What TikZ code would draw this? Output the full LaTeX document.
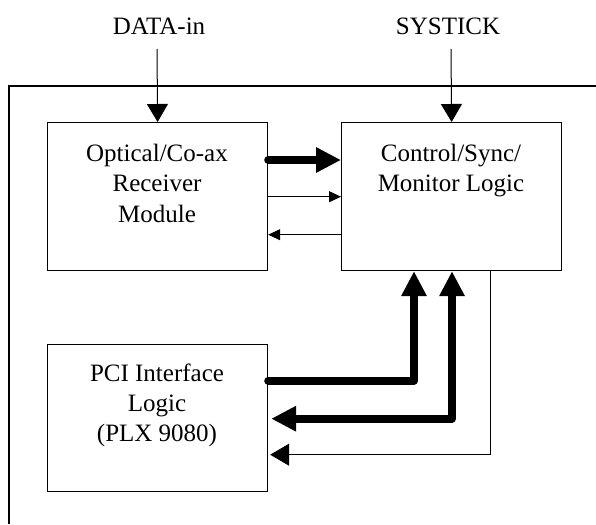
\documentclass[tikz,border=0pt]{standalone}
\usepackage{fontspec}
\setmainfont{Liberation Serif}
\usetikzlibrary{arrows.meta}
\begin{document}
\begin{tikzpicture}[x=1pt,y=-1pt,
  block/.style={draw,line width=1.2pt,minimum width=220pt,inner sep=0pt,anchor=north west},
  lbl/.style={font=\fontsize{25}{29}\selectfont,anchor=base,inner sep=0pt},
  frameline/.style={line width=1.6pt},
  thinwire/.style={line width=1pt},
  bus/.style={line width=8pt,line cap=round,line join=round},
  feedtip/.style={-{Triangle[length=18pt,width=21pt]}},
  smalltip/.style={-{Triangle[length=12pt,width=11pt]}},
  midtip/.style={-{Triangle[length=19pt,width=22pt]}},
  bustip/.style={-{Triangle[length=25pt,width=24pt]}},
  busboth/.style={{Triangle[length=25pt,width=24pt]}-{Triangle[length=25pt,width=24pt]}}]

  \useasboundingbox (0,0) rectangle (596,524);

  % board outline (open to the right and bottom)
  \draw[frameline] (9,524) -- (9,86) -- (596,86);

  % functional blocks
  \node[block,minimum height=148pt] (opt)  at (47,122)  {};
  \node[block,minimum height=148pt] (ctrl) at (341,122) {};
  \node[block,minimum height=147pt] (pci)  at (47,344)  {};

  % block captions
  \node[lbl] (opt1) at (157,161.7) {Optical/Co-ax};
  \node[lbl] (opt2) at (157,191.5) {Receiver};
  \node[lbl] (opt3) at (157,222.5) {Module};
  \node[lbl] (ctl1) at (451,161.7) {Control/Sync/};
  \node[lbl] (ctl2) at (451,191.5) {Monitor Logic};
  \node[lbl] (pci1) at (157,381.5) {PCI Interface};
  \node[lbl] (pci2) at (157,411.5) {Logic};
  \node[lbl] (pci3) at (157,441)   {(PLX 9080)};

  % external inputs
  \node[lbl] (din) at (159,35) {DATA-in};
  \node[lbl] (sys) at (448,35) {SYSTICK};
  \coordinate (dinend) at (157,49);
  \coordinate (sysend) at (451,49);
  \draw[thinwire,feedtip] (dinend) -- (opt.north);
  \draw[thinwire,feedtip] (sysend) -- (ctrl.north);

  % receiver <-> control links
  \draw[bus,bustip] ([yshift=-38pt]opt.north east) -- ([yshift=-38pt]ctrl.north west);
  \draw[thinwire,smalltip] ([yshift=-74.7pt]opt.north east) -- ([yshift=-74.7pt]ctrl.north west);
  \draw[thinwire,smalltip] ([yshift=-112.7pt]ctrl.north west) -- ([yshift=-112.7pt]opt.north east);

  % PCI <-> control links
  \draw[bus,bustip] ([yshift=-36.7pt]pci.north east) -| ([xshift=73pt]ctrl.south west);
  \draw[bus,busboth,shorten >=3pt] ([xshift=111pt]ctrl.south west) |- ([yshift=-74.7pt]pci.north east);
  \draw[thinwire,midtip,shorten >=2pt] ([xshift=149pt]ctrl.south west) |- ([yshift=-110.7pt]pci.north east);
\end{tikzpicture}
\end{document}
